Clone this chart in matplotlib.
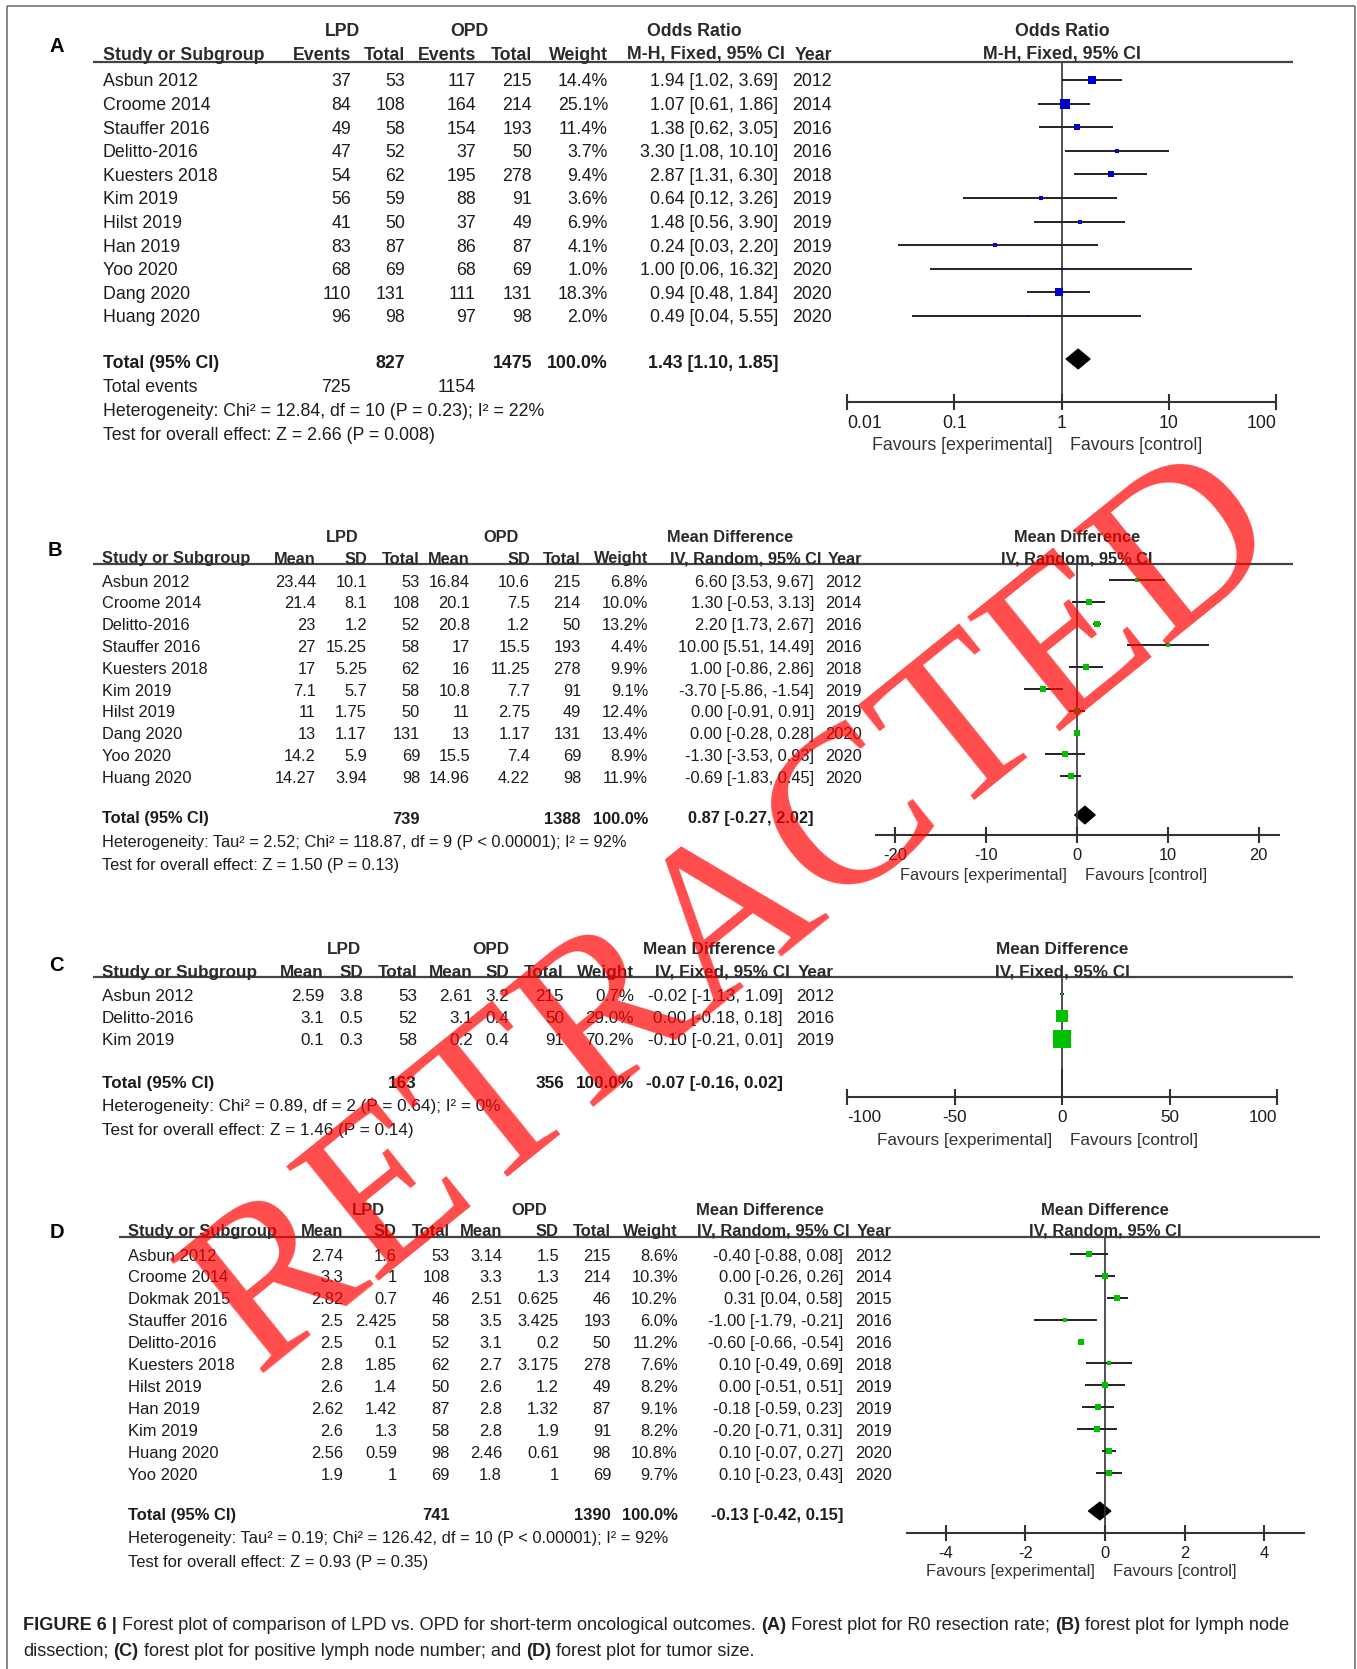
import matplotlib
matplotlib.use("Agg")
import matplotlib.pyplot as plt
from matplotlib.lines import Line2D
from matplotlib.ticker import NullLocator
import numpy as np

plt.rcParams['font.family'] = ['Liberation Sans', 'DejaVu Sans']

# ---------------- DATA ----------------
# Panel A: R0 resection rate (Odds ratio)
studies_A = ["Asbun 2012", "Croome 2014", "Stauffer 2016", "Delitto-2016", "Kuesters 2018",
             "Kim 2019", "Hilst 2019", "Han 2019", "Yoo 2020", "Dang 2020", "Huang 2020"]
lpd_events_A = [37, 84, 49, 47, 54, 56, 41, 83, 68, 110, 96]
lpd_total_A = [53, 108, 58, 52, 62, 59, 50, 87, 69, 131, 98]
opd_events_A = [117, 164, 154, 37, 195, 88, 37, 86, 68, 111, 97]
opd_total_A = [215, 214, 193, 50, 278, 91, 49, 87, 69, 131, 98]
weight_A = [14.4, 25.1, 11.4, 3.7, 9.4, 3.6, 6.9, 4.1, 1.0, 18.3, 2.0]
or_A = [1.94, 1.07, 1.38, 3.30, 2.87, 0.64, 1.48, 0.24, 1.00, 0.94, 0.49]
lo_A = [1.02, 0.61, 0.62, 1.08, 1.31, 0.12, 0.56, 0.03, 0.06, 0.48, 0.04]
hi_A = [3.69, 1.86, 3.05, 10.10, 6.30, 3.26, 3.90, 2.20, 16.32, 1.84, 5.55]
year_A = [2012, 2014, 2016, 2016, 2018, 2019, 2019, 2019, 2020, 2020, 2020]
total_A = (1.43, 1.10, 1.85)
n_total_A = (827, 1475)
events_total_A = (725, 1154)
het_A = "Heterogeneity: Chi² = 12.84, df = 10 (P = 0.23); I² = 22%"
test_A = "Test for overall effect: Z = 2.66 (P = 0.008)"
ticks_A = [0.01, 0.1, 1, 10, 100]
ticklabels_A = ["0.01", "0.1", "1", "10", "100"]

# Panel B: lymph node dissection
studies_B = ["Asbun 2012", "Croome 2014", "Delitto-2016", "Stauffer 2016", "Kuesters 2018",
             "Kim 2019", "Hilst 2019", "Dang 2020", "Yoo 2020", "Huang 2020"]
lpd_mean_B = [23.44, 21.4, 23, 27, 17, 7.1, 11, 13, 14.2, 14.27]
lpd_sd_B = [10.1, 8.1, 1.2, 15.25, 5.25, 5.7, 1.75, 1.17, 5.9, 3.94]
lpd_n_B = [53, 108, 52, 58, 62, 58, 50, 131, 69, 98]
opd_mean_B = [16.84, 20.1, 20.8, 17, 16, 10.8, 11, 13, 15.5, 14.96]
opd_sd_B = [10.6, 7.5, 1.2, 15.5, 11.25, 7.7, 2.75, 1.17, 7.4, 4.22]
opd_n_B = [215, 214, 50, 193, 278, 91, 49, 131, 69, 98]
weight_B = [6.8, 10.0, 13.2, 4.4, 9.9, 9.1, 12.4, 13.4, 8.9, 11.9]
md_B = [6.60, 1.30, 2.20, 10.00, 1.00, -3.70, 0.00, 0.00, -1.30, -0.69]
lo_B = [3.53, -0.53, 1.73, 5.51, -0.86, -5.86, -0.91, -0.28, -3.53, -1.83]
hi_B = [9.67, 3.13, 2.67, 14.49, 2.86, -1.54, 0.91, 0.28, 0.93, 0.45]
year_B = [2012, 2014, 2016, 2016, 2018, 2019, 2019, 2020, 2020, 2020]
total_B = (0.87, -0.27, 2.02)
n_total_B = (739, 1388)
het_B = "Heterogeneity: Tau² = 2.52; Chi² = 118.87, df = 9 (P < 0.00001); I² = 92%"
test_B = "Test for overall effect: Z = 1.50 (P = 0.13)"
ticks_B = [-20, -10, 0, 10, 20]
ticklabels_B = ["-20", "-10", "0", "10", "20"]

# Panel C: positive lymph node number
studies_C = ["Asbun 2012", "Delitto-2016", "Kim 2019"]
lpd_mean_C = [2.59, 3.1, 0.1]
lpd_sd_C = [3.8, 0.5, 0.3]
lpd_n_C = [53, 52, 58]
opd_mean_C = [2.61, 3.1, 0.2]
opd_sd_C = [3.2, 0.4, 0.4]
opd_n_C = [215, 50, 91]
weight_C = [0.7, 29.0, 70.2]
md_C = [-0.02, 0.00, -0.10]
lo_C = [-1.13, -0.18, -0.21]
hi_C = [1.09, 0.18, 0.01]
year_C = [2012, 2016, 2019]
total_C = (-0.07, -0.16, 0.02)
n_total_C = (163, 356)
het_C = "Heterogeneity: Chi² = 0.89, df = 2 (P = 0.64); I² = 0%"
test_C = "Test for overall effect: Z = 1.46 (P = 0.14)"
ticks_C = [-100, -50, 0, 50, 100]
ticklabels_C = ["-100", "-50", "0", "50", "100"]

# Panel D: tumor size
studies_D = ["Asbun 2012", "Croome 2014", "Dokmak 2015", "Stauffer 2016", "Delitto-2016",
             "Kuesters 2018", "Hilst 2019", "Han 2019", "Kim 2019", "Huang 2020", "Yoo 2020"]
lpd_mean_D = [2.74, 3.3, 2.82, 2.5, 2.5, 2.8, 2.6, 2.62, 2.6, 2.56, 1.9]
lpd_sd_D = [1.6, 1, 0.7, 2.425, 0.1, 1.85, 1.4, 1.42, 1.3, 0.59, 1]
lpd_n_D = [53, 108, 46, 58, 52, 62, 50, 87, 58, 98, 69]
opd_mean_D = [3.14, 3.3, 2.51, 3.5, 3.1, 2.7, 2.6, 2.8, 2.8, 2.46, 1.8]
opd_sd_D = [1.5, 1.3, 0.625, 3.425, 0.2, 3.175, 1.2, 1.32, 1.9, 0.61, 1]
opd_n_D = [215, 214, 46, 193, 50, 278, 49, 87, 91, 98, 69]
weight_D = [8.6, 10.3, 10.2, 6.0, 11.2, 7.6, 8.2, 9.1, 8.2, 10.8, 9.7]
md_D = [-0.40, 0.00, 0.31, -1.00, -0.60, 0.10, 0.00, -0.18, -0.20, 0.10, 0.10]
lo_D = [-0.88, -0.26, 0.04, -1.79, -0.66, -0.49, -0.51, -0.59, -0.71, -0.07, -0.23]
hi_D = [0.08, 0.26, 0.58, -0.21, -0.54, 0.69, 0.51, 0.23, 0.31, 0.27, 0.43]
year_D = [2012, 2014, 2015, 2016, 2016, 2018, 2019, 2019, 2019, 2020, 2020]
total_D = (-0.13, -0.42, 0.15)
n_total_D = (741, 1390)
het_D = "Heterogeneity: Tau² = 0.19; Chi² = 126.42, df = 10 (P < 0.00001); I² = 92%"
test_D = "Test for overall effect: Z = 0.93 (P = 0.35)"
ticks_D = [-4, -2, 0, 2, 4]
ticklabels_D = ["-4", "-2", "0", "2", "4"]

caption_l1 = [("FIGURE 6 |", True),
              ("Forest plot of comparison of LPD vs. OPD for short-term oncological outcomes.", False),
              ("(A)", True), ("Forest plot for R0 resection rate;", False),
              ("(B)", True), ("forest plot for lymph node", False)]
caption_l2 = [("dissection;", False), ("(C)", True),
              ("forest plot for positive lymph node number; and", False),
              ("(D)", True), ("forest plot for tumor size.", False)]

# ---------------- FIGURE ----------------
W, H = 1357, 1669
fig = plt.figure(figsize=(W / 100, H / 100), dpi=100)
TC = '#1c1c1c'
HC = '#2a2a2a'
DY = 2


def fx(x):
    return x / W


def fy(y):
    return 1 - y / H


def txt(x, y, s, fs, ha='left', bold=False, color=TC, **kw):
    return fig.text(fx(x), fy(y + DY), s, ha=ha, va='center', fontsize=fs,
                    fontweight='bold' if bold else 'normal', color=color, **kw)


def hline(x0, x1, y, lw=1.6, color='#444444'):
    fig.add_artist(Line2D([fx(x0), fx(x1)], [fy(y), fy(y)], transform=fig.transFigure,
                          lw=lw, color=color, solid_capstyle='butt'))


def vline(x, y0, y1, lw=1.1, color='#666666'):
    fig.add_artist(Line2D([fx(x), fx(x)], [fy(y0), fy(y1)], transform=fig.transFigure,
                          lw=lw, color=color, solid_capstyle='butt'))


# border frame (open at bottom)
hline(7, 1355, 6, lw=1.1, color='#666666')
vline(7, 6, H)
vline(1355, 6, H)


def panel(L, label, grp, headers, rows, total_cells, extra_rows, het, test,
          est, lo, hi, wts, tot, color, k, xlim, ticks, ticklabels, log=False, dh=10,
          inward=False):
    cols = L['cols']
    fs = L['fs']
    txt(L['label'][0], L['label'][1], label, 14.5, bold=True, color='black')
    for s, x in grp:
        txt(x, L['grp_y'], s, fs, ha='center', bold=True, color=HC)
    txt(L['study_x'], L['hdr_y'], "Study or Subgroup", fs, bold=True, color=HC)
    nh = len(headers) - 1
    for j, (s, x) in enumerate(zip(headers[:-1], cols)):
        off = 7 if j == nh - 2 else 0
        txt(x + off, L['hdr_y'], s, fs, ha='right', bold=True, color=HC)
    txt(L['ref_px'], L['hdr_y'], headers[-1], fs, ha='center', bold=True, color=HC)
    hline(L['line_x'][0], L['line_x'][1], L['line_y'])
    for i, r in enumerate(rows):
        y = L['row0'] + i * L['step']
        txt(L['study_x'], y, r[0], fs)
        for s, x in zip(r[1:], cols):
            txt(x, y, s, fs, ha='right')
    txt(L['study_x'], L['total_y'], "Total (95% CI)", fs, bold=True)
    for ci, s in total_cells:
        txt(cols[ci], L['total_y'], s, fs, ha='right', bold=True)
    ey = L['total_y']
    for lab, cells in extra_rows:
        ey += L['line_gap']
        txt(L['study_x'], ey, lab, fs)
        for ci, s in cells:
            txt(cols[ci], ey, s, fs, ha='right')
    txt(L['study_x'], ey + L['line_gap'], het, fs)
    txt(L['study_x'], ey + 2 * L['line_gap'], test, fs)

    # forest axes
    x0, x1 = L['ax_x']
    ytop, ybot = L['line_y'], L['axis_y']
    ax = fig.add_axes([fx(x0), fy(ybot), (x1 - x0) / W, (ybot - ytop) / H])
    ax.patch.set_alpha(0)
    if log:
        ax.set_xscale('log')
    ax.set_xlim(*xlim)
    ax.set_ylim(ybot, ytop)
    for s in ['top', 'left', 'right']:
        ax.spines[s].set_visible(False)
    ax.spines['bottom'].set_linewidth(1.5)
    ax.spines['bottom'].set_color('#333333')
    ax.set_yticks([])
    ax.set_xticks(ticks)
    ax.set_xticklabels(ticklabels)
    ax.xaxis.set_minor_locator(NullLocator())
    ax.tick_params(axis='x', direction='inout', length=11, width=1.5, labelsize=fs,
                   pad=4, color='#333333', labelcolor=TC)
    if inward:
        labs = ax.get_xticklabels()
        labs[0].set_horizontalalignment('left')
        labs[-1].set_horizontalalignment('right')
    ref = 1 if log else 0
    ax.axvline(ref, color='#333333', lw=1.2)
    ys = [L['row0'] + i * L['step'] for i in range(len(est))]
    ax.hlines(ys, lo, hi, color='#222222', lw=1.4)
    for y, e, w in zip(ys, est, wts):
        side = max(k * np.sqrt(w), 2.0)
        ax.plot([e], [y], marker='s', ms=side * 0.72, color=color, mew=0, ls='none')
    e, l, h = tot
    yc = L['total_y'] - 2
    ax.fill([l, e, h, e], [yc, yc - dh, yc, yc + dh], facecolor='black',
            edgecolor='black', lw=0.8)
    txt(L['ref_px'] - 10, L['fav_y'], "Favours [experimental]", fs, ha='right', color='#333333')
    txt(L['ref_px'] + 8, L['fav_y'], "Favours [control]", fs, ha='left', color='#333333')
    return ax


def fmt_ci(e, l, h):
    return f"{e:.2f} [{l:.2f}, {h:.2f}]"


# ---- Panel A ----
LA = dict(fs=12.8, label=(50, 45), grp_y=30, hdr_y=53, line_y=62, line_x=(93, 1293),
          study_x=103, row0=80, step=23.6, total_y=361, line_gap=24.2,
          cols=[351, 405, 476, 532, 608, 778, 832], ax_x=(847, 1276), axis_y=402,
          fav_y=443, ref_px=1062)
rows_A = [[s, str(a), str(b), str(c), str(d), f"{w:.1f}%", fmt_ci(o, l, h), str(yr)]
          for s, a, b, c, d, w, o, l, h, yr in zip(studies_A, lpd_events_A, lpd_total_A,
                                                    opd_events_A, opd_total_A, weight_A,
                                                    or_A, lo_A, hi_A, year_A)]
panel(LA, "A", [("LPD", 342), ("OPD", 469), ("Odds Ratio", 694), ("Odds Ratio", 1062)],
      ["Events", "Total", "Events", "Total", "Weight", "M-H, Fixed, 95% CI", "Year",
       "M-H, Fixed, 95% CI"],
      rows_A,
      [(1, str(n_total_A[0])), (3, str(n_total_A[1])), (4, "100.0%"), (5, fmt_ci(*total_A))],
      [("Total events", [(0, str(events_total_A[0])), (2, str(events_total_A[1]))])],
      het_A, test_A, or_A, lo_A, hi_A, weight_A, total_A, '#0000cc', 1.85,
      (0.01, 100), ticks_A, ticklabels_A, log=True, dh=10, inward=True)


def md_rows(studies, m1, s1, n1, m2, s2, n2, w, md, lo, hi, yr):
    return [[st, f"{a:g}", f"{b:g}", str(c), f"{d:g}", f"{e:g}", str(f), f"{ww:.1f}%",
             fmt_ci(x, l, h), str(y)]
            for st, a, b, c, d, e, f, ww, x, l, h, y in
            zip(studies, m1, s1, n1, m2, s2, n2, w, md, lo, hi, yr)]


def md_headers(meth):
    return ["Mean", "SD", "Total", "Mean", "SD", "Total", "Weight", meth, "Year", meth]


# ---- Panel B ----
LB = dict(fs=11.8, label=(48, 549), grp_y=535, hdr_y=557, line_y=564, line_x=(93, 1293),
          study_x=102, row0=580, step=21.8, total_y=817, line_gap=23.0,
          cols=[316, 367, 420, 470, 530, 581, 648, 814, 862], ax_x=(875.5, 1279.4),
          axis_y=835, fav_y=873, ref_px=1077)
panel(LB, "B", [("LPD", 342), ("OPD", 501), ("Mean Difference", 730), ("Mean Difference", 1077)],
      md_headers("IV, Random, 95% CI"),
      md_rows(studies_B, lpd_mean_B, lpd_sd_B, lpd_n_B, opd_mean_B, opd_sd_B, opd_n_B,
              weight_B, md_B, lo_B, hi_B, year_B),
      [(2, str(n_total_B[0])), (5, str(n_total_B[1])), (6, "100.0%"), (7, fmt_ci(*total_B))],
      [], het_B, test_B, md_B, lo_B, hi_B, weight_B, total_B, '#00c000', 1.75,
      (-22.2, 22.3), ticks_B, ticklabels_B, dh=9)

# ---- Panel C ----
LC = dict(fs=12.3, label=(49, 963), grp_y=947, hdr_y=970, line_y=977, line_x=(93, 1293),
          study_x=102, row0=994, step=22.3, total_y=1081, line_gap=23.5,
          cols=[324, 363, 417, 473, 509, 564, 634, 783, 834], ax_x=(847, 1277),
          axis_y=1097, fav_y=1138, ref_px=1062)
panel(LC, "C", [("LPD", 344), ("OPD", 491), ("Mean Difference", 709), ("Mean Difference", 1062)],
      md_headers("IV, Fixed, 95% CI"),
      md_rows(studies_C, lpd_mean_C, lpd_sd_C, lpd_n_C, opd_mean_C, opd_sd_C, opd_n_C,
              weight_C, md_C, lo_C, hi_C, year_C),
      [(2, str(n_total_C[0])), (5, str(n_total_C[1])), (6, "100.0%"), (7, fmt_ci(*total_C))],
      [], het_C, test_C, md_C, lo_C, hi_C, weight_C, total_C, '#00c000', 2.1,
      (-100, 100), ticks_C, ticklabels_C, dh=10, inward=True)

# ---- Panel D ----
LD = dict(fs=11.9, label=(50, 1230), grp_y=1208, hdr_y=1229, line_y=1237, line_x=(119, 1320),
          study_x=128, row0=1254, step=21.9, total_y=1513, line_gap=23.5,
          cols=[343, 397, 450, 502, 559, 611, 678, 843, 892], ax_x=(907.4, 1303.8),
          axis_y=1533, fav_y=1569, ref_px=1105)
panel(LD, "D", [("LPD", 368), ("OPD", 529), ("Mean Difference", 760), ("Mean Difference", 1105)],
      md_headers("IV, Random, 95% CI"),
      md_rows(studies_D, lpd_mean_D, lpd_sd_D, lpd_n_D, opd_mean_D, opd_sd_D, opd_n_D,
              weight_D, md_D, lo_D, hi_D, year_D),
      [(2, str(n_total_D[0])), (5, str(n_total_D[1])), (6, "100.0%"), (7, fmt_ci(*total_D))],
      [], het_D, test_D, md_D, lo_D, hi_D, weight_D, total_D, '#00c000', 1.75,
      (-4.97, 5.0), ticks_D, ticklabels_D, dh=9)

# ---- Caption ----
renderer = fig.canvas.get_renderer()


def width_of(s, bold, fs):
    t = fig.text(0, 0, s, fontsize=fs, fontweight='bold' if bold else 'normal')
    w = t.get_window_extent(renderer).width
    t.remove()
    return w


def line_width(segs, fs):
    sp = width_of("a a", False, fs) - width_of("aa", False, fs)
    return sum(width_of(s, b, fs) for s, b in segs) + sp * (len(segs) - 1), sp


w12, _ = line_width(caption_l1, 12)
cap_fs = 12 * (1293 - 23) / w12


def draw_line(segs, y, fs):
    _, sp = line_width(segs, fs)
    x = 23
    for s, b in segs:
        txt(x, y, s, fs, bold=b, color='#222222')
        x += width_of(s, b, fs) + sp


draw_line(caption_l1, 1623, cap_fs)
draw_line(caption_l2, 1649, cap_fs)

# ---- Watermark ----
fig.text(fx(738), fy(916), "RETRACTED", rotation=38.9, rotation_mode='anchor',
         ha='center', va='center', fontsize=162, family='Liberation Serif',
         color='red', alpha=0.7, zorder=100)

fig.savefig("out.png", dpi=100)
